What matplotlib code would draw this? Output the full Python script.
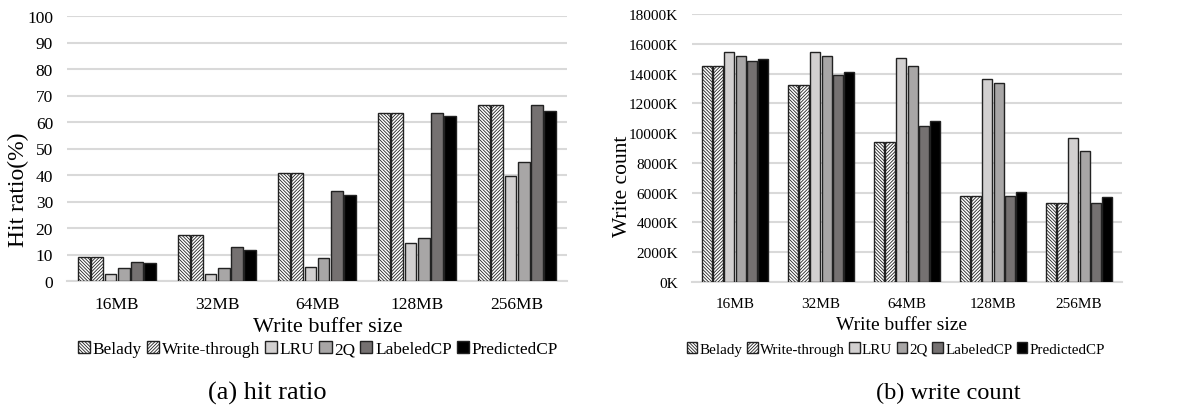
import matplotlib
matplotlib.use("Agg")
import matplotlib.pyplot as plt
import numpy as np
from matplotlib.ticker import FuncFormatter, MultipleLocator

plt.rcParams["font.family"] = ["Liberation Serif", "DejaVu Serif"]
plt.rcParams["hatch.linewidth"] = 0.6

buffer_sizes = ["16MB", "32MB", "64MB", "128MB", "256MB"]
policies = ["Belady", "Write-through", "LRU", "2Q", "LabeledCP", "PredictedCP"]

# hit ratio (%) per policy, one value per buffer size
hit_belady = [9.2, 17.2, 40.9, 63.5, 66.6]
hit_write_through = [9.2, 17.2, 40.9, 63.5, 66.6]
hit_lru = [2.5, 2.5, 5.3, 14.5, 39.5]
hit_2q = [4.8, 4.8, 8.8, 16.1, 44.8]
hit_labeled = [7.2, 12.7, 34.0, 63.3, 66.3]
hit_predicted = [6.7, 11.6, 32.3, 62.1, 64.0]

# write count in thousands
wc_belady = [14530, 13240, 9430, 5790, 5320]
wc_write_through = [14530, 13240, 9430, 5790, 5320]
wc_lru = [15470, 15470, 15070, 13620, 9660]
wc_2q = [15200, 15200, 14530, 13390, 8790]
wc_labeled = [14850, 13910, 10490, 5790, 5320]
wc_predicted = [14960, 14110, 10800, 6060, 5720]

styles = [
    dict(color="white", hatch="\\" * 10),
    dict(color="white", hatch="/" * 10),
    dict(color="#d2d0d0", hatch=None),
    dict(color="#a8a6a6", hatch=None),
    dict(color="#757171", hatch=None),
    dict(color="#000000", hatch=None),
]

W, H = 1195, 410
fig = plt.figure(figsize=(W / 100, H / 100), dpi=100)


def px_axes(x0, y_top, x1, y_bottom):
    return fig.add_axes([x0 / W, 1 - y_bottom / H, (x1 - x0) / W, (y_bottom - y_top) / H])


def fx(px):
    return px / W


def fy(px):
    return 1 - px / H


def draw_bars(ax, series, fs):
    x = np.arange(len(buffer_sizes))
    step = 0.132
    width = 0.118
    handles = []
    for i, (vals, st) in enumerate(zip(series, styles)):
        off = (i - 2.5) * step
        b = ax.bar(x + off, vals, width, color=st["color"], hatch=st["hatch"],
                   edgecolor="#222222", linewidth=1.0, zorder=3, label=policies[i])
        handles.append(b)
    ax.set_xlim(-0.5, len(buffer_sizes) - 0.5)
    ax.set_xticks(x)
    ax.set_xticklabels(buffer_sizes)
    for s in ["top", "right", "left"]:
        ax.spines[s].set_visible(False)
    ax.spines["bottom"].set_color("#d9d9d9")
    ax.spines["bottom"].set_linewidth(1.5)
    ax.yaxis.grid(True, color="#d9d9d9", linewidth=1.5, zorder=0)
    ax.set_axisbelow(True)
    ax.tick_params(axis="both", length=0, labelsize=fs)
    ax.tick_params(axis="x", pad=11)
    ax.tick_params(axis="y", pad=10)
    return handles


leg_kw = dict(ncol=6, frameon=False, handlelength=0.7, handleheight=0.7,
              handletextpad=0.15, columnspacing=0.3, borderaxespad=0, loc="center")

# (a) hit ratio
ax1 = px_axes(67, 17, 567, 282)
h1 = draw_bars(ax1, [hit_belady, hit_write_through, hit_lru, hit_2q, hit_labeled, hit_predicted], 12.5)
ax1.set_ylim(0, 100)
ax1.yaxis.set_major_locator(MultipleLocator(10))

fig.text(fx(18), fy(190), "Hit ratio(%)", rotation=90, ha="center", va="center", fontsize=17)
fig.text(fx(328), fy(327), "Write buffer size", ha="center", va="center", fontsize=16)
fig.legend(h1, policies, bbox_to_anchor=(fx(318), fy(350)), fontsize=12.4, **leg_kw)
fig.text(fx(267), fy(393), "(a) hit ratio", ha="center", va="center", fontsize=19)

# (b) write count
ax2 = px_axes(692, 15, 1122, 283)
h2 = draw_bars(ax2, [wc_belady, wc_write_through, wc_lru, wc_2q, wc_labeled, wc_predicted], 11)
ax2.set_ylim(0, 18000)
ax2.yaxis.set_major_locator(MultipleLocator(2000))
ax2.yaxis.set_major_formatter(FuncFormatter(lambda v, _: f"{int(v)}K"))

fig.text(fx(623), fy(186), "Write count", rotation=90, ha="center", va="center", fontsize=15.5)
fig.text(fx(901), fy(325), "Write buffer size", ha="center", va="center", fontsize=14)
fig.legend(h2, policies, bbox_to_anchor=(fx(896), fy(350)), fontsize=10.8, **leg_kw)
fig.text(fx(948), fy(393), "(b) write count", ha="center", va="center", fontsize=17.5)

fig.savefig("out.png", dpi=100)
